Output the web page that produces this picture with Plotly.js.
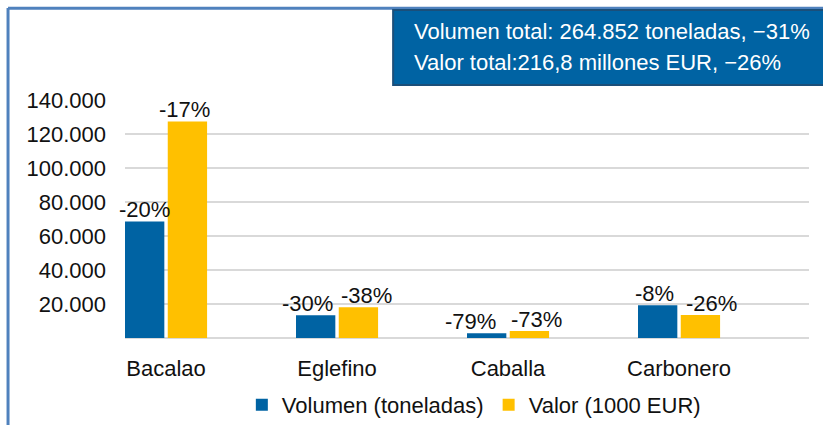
<!DOCTYPE html>
<html>
<head>
<meta charset="utf-8">
<script src="https://cdn.plot.ly/plotly-3.0.1.min.js"></script>
<style>
  html, body { margin: 0; padding: 0; background: #ffffff; }
  #chart { width: 823px; height: 425px; }
</style>
</head>
<body>
<div id="chart"></div>
<script>
const categories = ['Bacalao', 'Eglefino', 'Caballa', 'Carbonero'];
const volumen = [68600, 13400, 2800, 19300];
const valor = [127400, 18100, 4100, 13600];
const volumenChange = ['-20%', '-30%', '-79%', '-8%'];
const valorChange = ['-17%', '-38%', '-73%', '-26%'];
const yTicks = [20000, 40000, 60000, 80000, 100000, 120000, 140000];
const seriesNames = ['Volumen (toneladas)', 'Valor (1000 EUR)'];
const boxLines = [
  'Volumen total: 264.852 toneladas, \u221231%',
  'Valor total:216,8 millones EUR, \u221226%'
];

// label nudges (px) so neighbouring labels do not collide, as in the original
const volumenLabelShift = [0, -8, -16, -3];
const valorLabelShift = [-3, 8, 7, 11];

const FONT = 'Liberation Sans, Arial, sans-serif';
const BLUE = '#0063a3';
const YELLOW = '#ffc000';
const FS = 22;
const HALF = 21.5; // offset from category centre to each bar's centre, px

const traces = [
  { type: 'bar', name: seriesNames[0], x: categories, y: volumen,
    marker: { color: BLUE }, hoverinfo: 'none' },
  { type: 'bar', name: seriesNames[1], x: categories, y: valor,
    marker: { color: YELLOW }, hoverinfo: 'none' }
];

const labelAnnotations = [];
categories.forEach((c, i) => {
  labelAnnotations.push({ xref: 'x', yref: 'y', x: c, y: volumen[i], text: volumenChange[i],
    xanchor: 'center', yanchor: 'bottom', xshift: -HALF + volumenLabelShift[i], yshift: -2,
    showarrow: false, borderpad: 0, font: { family: FONT, size: FS, color: '#111111' } });
  labelAnnotations.push({ xref: 'x', yref: 'y', x: c, y: valor[i], text: valorChange[i],
    xanchor: 'center', yanchor: 'bottom', xshift: HALF + valorLabelShift[i], yshift: -2,
    showarrow: false, borderpad: 0, font: { family: FONT, size: FS, color: '#111111' } });
});

const layout = {
  width: 823, height: 425,
  margin: { l: 125, r: 14, t: 100, b: 87, pad: 0, autoexpand: false },
  paper_bgcolor: '#ffffff', plot_bgcolor: '#ffffff',
  font: { family: FONT, size: FS, color: '#111111' },
  separators: ',.',
  barmode: 'group', bargap: 0.5, bargroupgap: 0.08,
  showlegend: true,
  legend: {
    orientation: 'h', x: 0.51, xanchor: 'center',
    yref: 'container', y: 0.047, yanchor: 'middle',
    font: { family: FONT, size: FS, color: '#111111' },
    itemwidth: 30, traceorder: 'normal'
  },
  xaxis: {
    type: 'category', range: [-0.24, 3.76], automargin: false,
    showgrid: false, zeroline: false, showline: false, ticks: '',
    ticklabelstandoff: 15,
    tickfont: { family: FONT, size: FS, color: '#111111' }
  },
  yaxis: {
    range: [0, 140000], tickvals: yTicks, tickformat: ',d', automargin: false,
    showgrid: true, gridcolor: '#d9d9d9', gridwidth: 2,
    zeroline: true, zerolinecolor: '#d9d9d9', zerolinewidth: 2,
    showline: false, ticks: '', ticklabelstandoff: 18,
    tickfont: { family: FONT, size: FS, color: '#111111' }
  },
  shapes: [
    { type: 'line', xref: 'paper', yref: 'paper', x0: -0.171, x1: -0.171, y0: -0.40, y1: 1.387,
      line: { color: '#4f81bd', width: 3 } },
    { type: 'line', xref: 'paper', yref: 'paper', x0: -0.171, x1: 1.03, y0: 1.385, y1: 1.385,
      line: { color: '#4f81bd', width: 3 } },
    { type: 'rect', xref: 'paper', yref: 'paper', x0: 0.392, x1: 1.03, y0: 1.063, y1: 1.378,
      fillcolor: BLUE, line: { color: '#1b4f7a', width: 2 }, layer: 'above' }
  ],
  annotations: [
    { xref: 'paper', yref: 'paper', x: 0.4195, y: 1.287, xanchor: 'left', yanchor: 'middle',
      text: boxLines[0], showarrow: false, font: { family: FONT, size: FS, color: '#ffffff' } },
    { xref: 'paper', yref: 'paper', x: 0.4195, y: 1.158, xanchor: 'left', yanchor: 'middle',
      text: boxLines[1], showarrow: false, font: { family: FONT, size: FS, color: '#ffffff' } }
  ].concat(labelAnnotations)
};

Plotly.newPlot('chart', traces, layout, { staticPlot: true, displayModeBar: false });
</script>
</body>
</html>
